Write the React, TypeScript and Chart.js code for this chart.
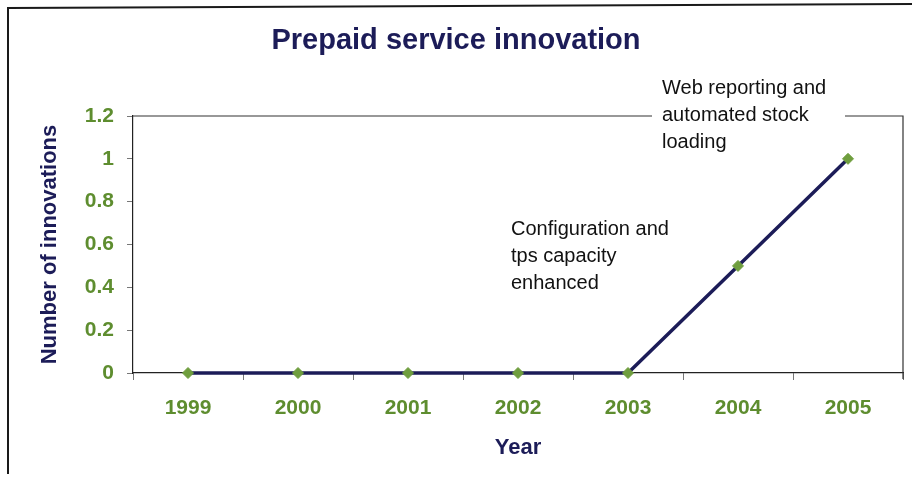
import React, { useEffect, useRef } from "react";
import { Chart, registerables } from "chart.js";

Chart.register(...registerables);

const years = ["1999", "2000", "2001", "2002", "2003", "2004", "2005"];
const innovations = [0, 0, 0, 0, 0, 0.5, 1];
const yTickLabels = ["0", "0.2", "0.4", "0.6", "0.8", "1", "1.2"];
const chartTitle = "Prepaid service innovation";
const yAxisTitle = "Number of innovations";
const xAxisTitle = "Year";
const noteLate = ["Web reporting and", "automated stock", "loading"];
const noteEarly = ["Configuration and", "tps capacity", "enhanced"];

const NAVY = "#1c1c58";
const GREEN = "#5e8d2f";
const FONT = "'Liberation Sans', Arial, sans-serif";

const decorPlugin = {
  id: "decor",
  afterDraw(chart: any) {
    const ctx = chart.ctx;
    const a = chart.chartArea;
    ctx.save();
    // outer frame (top and left)
    ctx.strokeStyle = "#1a1a1a";
    ctx.lineWidth = 2;
    ctx.beginPath();
    ctx.moveTo(8, 474);
    ctx.lineTo(8, 8);
    ctx.lineTo(912, 4);
    ctx.stroke();
    // plot frame top/right with gap for annotation
    ctx.strokeStyle = "#333";
    ctx.lineWidth = 1.2;
    ctx.beginPath();
    ctx.moveTo(a.left, a.top);
    ctx.lineTo(652, a.top);
    ctx.moveTo(845, a.top);
    ctx.lineTo(a.right, a.top);
    ctx.lineTo(a.right, a.bottom + 6);
    ctx.stroke();
    // title
    ctx.fillStyle = NAVY;
    ctx.font = `bold 29px ${FONT}`;
    ctx.textAlign = "center";
    ctx.textBaseline = "alphabetic";
    ctx.fillText(chartTitle, 456, 49);
    // annotations
    ctx.fillStyle = "#111";
    ctx.font = `20px ${FONT}`;
    ctx.textAlign = "left";
    noteLate.forEach((t, i) => ctx.fillText(t, 662, 94 + i * 27));
    noteEarly.forEach((t, i) => ctx.fillText(t, 511, 235 + i * 27));
    ctx.restore();
  },
};

export default function App() {
  const ref = useRef<HTMLCanvasElement>(null);
  useEffect(() => {
    document.body.style.margin = "0";
    const chart = new Chart(ref.current!, {
      type: "line",
      data: {
        labels: years,
        datasets: [
          {
            data: innovations,
            borderColor: NAVY,
            borderWidth: 3.5,
            pointStyle: "rectRot",
            pointRadius: 5.5,
            pointBackgroundColor: "#6f9e3e",
            pointBorderColor: "#6f9e3e",
            pointBorderWidth: 1,
            tension: 0,
            clip: false as any,
          },
        ],
      },
      options: {
        animation: false,
        responsive: false,
        devicePixelRatio: 1,
        layout: { padding: { top: 116, right: 9, left: 0, bottom: 0 } },
        plugins: { legend: { display: false }, tooltip: { enabled: false } },
        scales: {
          x: {
            type: "category",
            offset: true,
            grid: { offset: true, drawOnChartArea: false, tickLength: 7, color: "#777" },
            border: { display: true, color: "#222", width: 1.2 },
            ticks: { color: GREEN, font: { family: FONT, size: 21, weight: "bold" }, padding: 16, maxRotation: 0 },
            title: {
              display: true,
              text: xAxisTitle,
              color: NAVY,
              font: { family: FONT, size: 22, weight: "bold" },
              padding: { top: 0, bottom: 27 },
            },
            afterFit(scale: any) {
              scale.height = 115;
            },
          },
          y: {
            min: 0,
            max: 1.2,
            grid: { drawOnChartArea: false, tickLength: 6, color: "#777" },
            border: { display: true, color: "#222", width: 1.2 },
            ticks: {
              stepSize: 0.2,
              color: GREEN,
              font: { family: FONT, size: 21, weight: "bold" },
              padding: 13,
              callback: (_v: any, i: number) => yTickLabels[i],
            },
            title: {
              display: true,
              text: yAxisTitle,
              color: NAVY,
              font: { family: FONT, size: 22, weight: "bold" },
              padding: { top: 37, bottom: 0 },
            },
            afterFit(scale: any) {
              scale.width = 133;
            },
          },
        },
      },
      plugins: [decorPlugin],
    });
    return () => chart.destroy();
  }, []);
  return (
    <div style={{ width: 912, height: 488, background: "#fff" }}>
      <canvas ref={ref} width={912} height={488} />
    </div>
  );
}
